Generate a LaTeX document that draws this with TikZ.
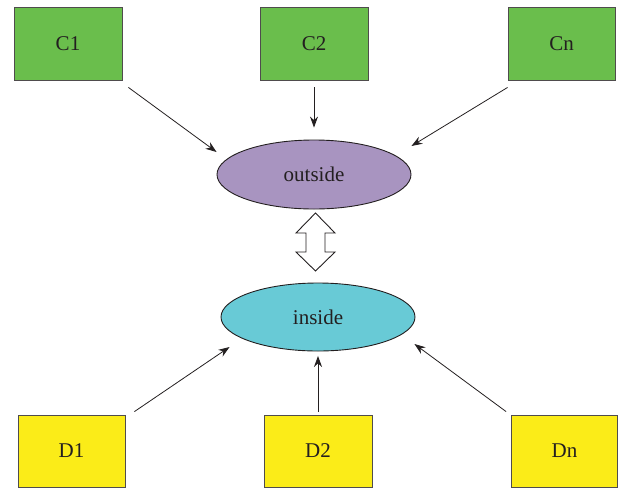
\documentclass[tikz,border=0pt]{standalone}
\usepackage{fontspec}
\setmainfont{Liberation Serif}
\usetikzlibrary{arrows.meta,shapes.geometric}
\definecolor{boxgreen}{RGB}{106,190,76}
\definecolor{boxyellow}{RGB}{251,236,24}
\definecolor{ellpurple}{RGB}{168,148,192}
\definecolor{ellcyan}{RGB}{104,202,214}
\definecolor{ink}{RGB}{35,31,32}
\tikzset{
  lbl/.style={font=\fontsize{21}{25}\selectfont, text=ink},
  cbox/.style={lbl, draw=ink!80, line width=0.9pt, fill=boxgreen, minimum width=108pt, minimum height=73pt, inner sep=0pt},
  dbox/.style={lbl, draw=ink!80, line width=0.9pt, fill=boxyellow, minimum width=107pt, minimum height=72pt, inner sep=0pt},
  ell/.style={lbl, draw=ink, line width=0.9pt, ellipse, minimum width=194pt, minimum height=69pt, inner sep=0pt},
  arr/.style={draw=ink, line width=0.8pt, -{Stealth[length=11pt,width=8pt]}},
}
\begin{document}
\begin{tikzpicture}[x=1pt,y=-1pt]
\useasboundingbox (0,0) rectangle (618,491);
\node[cbox] (C1) at (68,43.5) {C1};
\node[cbox] (C2) at (314,43.5) {C2};
\node[cbox, minimum width=107pt] (Cn) at (561.5,43.5) {Cn};
\node[dbox] (D1) at (71.5,451) {D1};
\node[dbox, minimum width=108pt] (D2) at (318,451) {D2};
\node[dbox, minimum width=106pt] (Dn) at (564.5,451) {Dn};
\node[ell, fill=ellpurple] (out) at (314,174.5) {outside};
\node[ell, fill=ellcyan, minimum height=68pt] (in) at (318,317) {inside};
% arrow tips
\coordinate (t1) at ([shift={(0,-22.5)}]out.west);
\coordinate (t2) at ([shift={(0,-12)}]out.north);
\coordinate (t3) at ([shift={(0,-28.5)}]out.east);
\coordinate (b1) at ([shift={(9,30)}]in.west);
\coordinate (b2) at ([shift={(0,4.5)}]in.south);
\coordinate (b3) at ([shift={(-1,27)}]in.east);
\draw[arr] ([shift={(6,7)}]C1.south east) -- (t1);
\draw[arr] ([shift={(0,7)}]C2.south) -- (t2);
\draw[arr] ([shift={(0,7)}]Cn.south west) -- (t3);
\draw[arr] ([shift={(9,-3)}]D1.north east) -- (b1);
\draw[arr] ([shift={(0,-3)}]D2.north) -- (b2);
\draw[arr] ([shift={(-5,-3)}]Dn.north west) -- (b3);
% double arrow
\draw[ink, line width=0.9pt, fill=white]
  (296,233) -- (315.5,213) -- (335,233) -- (325,233) -- (325,252) -- (335,252)
  -- (315.5,271) -- (296,252) -- (306,252) -- (306,233) -- cycle;
\end{tikzpicture}
\end{document}
